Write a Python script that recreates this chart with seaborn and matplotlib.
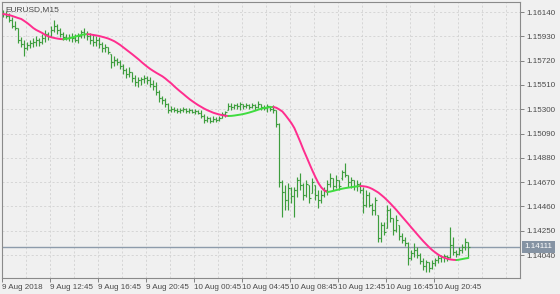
import numpy as np
import pandas as pd
import matplotlib
matplotlib.use("Agg")
import matplotlib.pyplot as plt
import seaborn as sns

symbol_title = "EURUSD,M15"

highs = [1.16158, 1.16149, 1.16132, 1.16097, 1.16063, 1.16002, 1.15924, 1.15898, 1.15881, 1.15898,
         1.15916, 1.15933, 1.15916, 1.15950, 1.15985, 1.15968, 1.16019, 1.16071, 1.16037, 1.16002,
         1.15968, 1.15950, 1.15950, 1.15959, 1.15950, 1.15959, 1.15985, 1.16002, 1.15976, 1.15959,
         1.15950, 1.15933, 1.15924, 1.15881, 1.15864, 1.15838, 1.15777, 1.15760, 1.15743, 1.15726,
         1.15691, 1.15656, 1.15665, 1.15622, 1.15596, 1.15579, 1.15579, 1.15596, 1.15587, 1.15579,
         1.15553, 1.15535, 1.15466, 1.15414, 1.15397, 1.15354, 1.15328, 1.15319, 1.15311, 1.15311,
         1.15319, 1.15311, 1.15311, 1.15302, 1.15302, 1.15294, 1.15294, 1.15259, 1.15242, 1.15233,
         1.15242, 1.15233, 1.15242, 1.15276, 1.15285, 1.15354, 1.15354, 1.15345, 1.15354, 1.15363,
         1.15345, 1.15354, 1.15345, 1.15354, 1.15345, 1.15371, 1.15345, 1.15337, 1.15345, 1.15328,
         1.15337, 1.15294, 1.15181, 1.14689, 1.14646, 1.14663, 1.14628, 1.14628, 1.14715, 1.14749,
         1.14663, 1.14689, 1.14646, 1.14706, 1.14646, 1.14602, 1.14602, 1.14628, 1.14689, 1.14749,
         1.14706, 1.14732, 1.14689, 1.14775, 1.14836, 1.14732, 1.14715, 1.14689, 1.14689, 1.14672,
         1.14628, 1.14602, 1.14585, 1.14490, 1.14542, 1.14386, 1.14326, 1.14326, 1.14473, 1.14447,
         1.14360, 1.14386, 1.14300, 1.14231, 1.14196, 1.14153, 1.14084, 1.14144, 1.14110, 1.14058,
         1.14015, 1.13998, 1.13980, 1.13998, 1.14015, 1.14041, 1.14041, 1.14049, 1.14041, 1.14283,
         1.14196, 1.14084, 1.14110, 1.14136, 1.14187, 1.14153]

lows = [1.16097, 1.16088, 1.16054, 1.16002, 1.15985, 1.15872, 1.15838, 1.15760, 1.15812, 1.15829,
        1.15838, 1.15847, 1.15847, 1.15864, 1.15881, 1.15898, 1.15924, 1.15968, 1.15950, 1.15924,
        1.15898, 1.15898, 1.15890, 1.15881, 1.15881, 1.15872, 1.15916, 1.15916, 1.15898, 1.15864,
        1.15847, 1.15847, 1.15829, 1.15795, 1.15795, 1.15777, 1.15656, 1.15674, 1.15682, 1.15648,
        1.15605, 1.15570, 1.15579, 1.15535, 1.15501, 1.15492, 1.15510, 1.15527, 1.15518, 1.15492,
        1.15466, 1.15423, 1.15363, 1.15345, 1.15319, 1.15268, 1.15276, 1.15276, 1.15268, 1.15268,
        1.15276, 1.15268, 1.15268, 1.15268, 1.15259, 1.15259, 1.15225, 1.15181, 1.15190, 1.15181,
        1.15190, 1.15190, 1.15199, 1.15225, 1.15233, 1.15294, 1.15294, 1.15302, 1.15302, 1.15294,
        1.15302, 1.15311, 1.15302, 1.15311, 1.15294, 1.15311, 1.15294, 1.15294, 1.15276, 1.15285,
        1.15268, 1.15147, 1.14628, 1.14369, 1.14430, 1.14430, 1.14490, 1.14369, 1.14542, 1.14602,
        1.14516, 1.14542, 1.14490, 1.14576, 1.14516, 1.14447, 1.14490, 1.14542, 1.14559, 1.14628,
        1.14602, 1.14620, 1.14602, 1.14689, 1.14715, 1.14628, 1.14620, 1.14602, 1.14594, 1.14576,
        1.14404, 1.14456, 1.14456, 1.14386, 1.14386, 1.14153, 1.14153, 1.14213, 1.14274, 1.14326,
        1.14213, 1.14239, 1.14170, 1.14144, 1.14118, 1.13955, 1.13998, 1.14023, 1.14015, 1.13963,
        1.13911, 1.13894, 1.13894, 1.13920, 1.13946, 1.13972, 1.13980, 1.13980, 1.13989, 1.14015,
        1.14041, 1.14023, 1.14041, 1.14058, 1.14084, 1.14023]

opens = [1.16140, 1.16123, 1.16106, 1.16071, 1.16019, 1.16002, 1.15898, 1.15864, 1.15829, 1.15855,
         1.15872, 1.15881, 1.15898, 1.15881, 1.15916, 1.15950, 1.15933, 1.15985, 1.16019, 1.15985,
         1.15950, 1.15924, 1.15916, 1.15924, 1.15916, 1.15898, 1.15933, 1.15968, 1.15950, 1.15933,
         1.15898, 1.15881, 1.15898, 1.15864, 1.15829, 1.15838, 1.15777, 1.15708, 1.15726, 1.15708,
         1.15674, 1.15639, 1.15605, 1.15622, 1.15570, 1.15535, 1.15553, 1.15561, 1.15570, 1.15553,
         1.15518, 1.15501, 1.15449, 1.15397, 1.15380, 1.15345, 1.15294, 1.15302, 1.15294, 1.15285,
         1.15294, 1.15302, 1.15285, 1.15294, 1.15276, 1.15285, 1.15268, 1.15242, 1.15207, 1.15225,
         1.15199, 1.15216, 1.15207, 1.15225, 1.15259, 1.15294, 1.15328, 1.15319, 1.15337, 1.15328,
         1.15345, 1.15328, 1.15337, 1.15319, 1.15337, 1.15319, 1.15345, 1.15319, 1.15311, 1.15328,
         1.15302, 1.15294, 1.15173, 1.14672, 1.14585, 1.14516, 1.14620, 1.14551, 1.14602, 1.14689,
         1.14646, 1.14559, 1.14646, 1.14576, 1.14646, 1.14559, 1.14516, 1.14559, 1.14602, 1.14654,
         1.14706, 1.14637, 1.14689, 1.14706, 1.14758, 1.14732, 1.14672, 1.14689, 1.14637, 1.14654,
         1.14602, 1.14473, 1.14559, 1.14473, 1.14430, 1.14386, 1.14187, 1.14300, 1.14274, 1.14430,
         1.14360, 1.14257, 1.14300, 1.14205, 1.14170, 1.14144, 1.14015, 1.14058, 1.14084, 1.14041,
         1.13989, 1.13946, 1.13980, 1.13929, 1.13972, 1.13998, 1.14015, 1.14023, 1.14032, 1.14023,
         1.14127, 1.14066, 1.14049, 1.14084, 1.14110, 1.14153]

closes = [1.16123, 1.16106, 1.16071, 1.16019, 1.16002, 1.15898, 1.15864, 1.15829, 1.15855, 1.15872,
          1.15881, 1.15898, 1.15881, 1.15916, 1.15950, 1.15933, 1.15985, 1.16019, 1.15985, 1.15950,
          1.15924, 1.15916, 1.15924, 1.15916, 1.15898, 1.15933, 1.15968, 1.15950, 1.15933, 1.15898,
          1.15881, 1.15898, 1.15864, 1.15829, 1.15838, 1.15795, 1.15708, 1.15726, 1.15708, 1.15674,
          1.15639, 1.15605, 1.15622, 1.15570, 1.15535, 1.15553, 1.15561, 1.15570, 1.15553, 1.15518,
          1.15501, 1.15449, 1.15397, 1.15380, 1.15345, 1.15294, 1.15302, 1.15294, 1.15285, 1.15294,
          1.15302, 1.15285, 1.15294, 1.15276, 1.15285, 1.15268, 1.15242, 1.15207, 1.15225, 1.15199,
          1.15216, 1.15207, 1.15225, 1.15259, 1.15276, 1.15328, 1.15319, 1.15337, 1.15328, 1.15345,
          1.15328, 1.15337, 1.15319, 1.15337, 1.15319, 1.15345, 1.15319, 1.15311, 1.15328, 1.15302,
          1.15294, 1.15173, 1.14672, 1.14585, 1.14516, 1.14620, 1.14551, 1.14602, 1.14689, 1.14646,
          1.14559, 1.14654, 1.14533, 1.14672, 1.14559, 1.14516, 1.14559, 1.14602, 1.14654, 1.14706,
          1.14637, 1.14689, 1.14637, 1.14758, 1.14732, 1.14672, 1.14689, 1.14637, 1.14654, 1.14602,
          1.14473, 1.14559, 1.14473, 1.14430, 1.14516, 1.14187, 1.14300, 1.14239, 1.14430, 1.14360,
          1.14257, 1.14343, 1.14205, 1.14170, 1.14144, 1.14015, 1.14058, 1.14084, 1.14041, 1.13989,
          1.13946, 1.13980, 1.13929, 1.13972, 1.13998, 1.14015, 1.14023, 1.14032, 1.14023, 1.14127,
          1.14066, 1.14049, 1.14084, 1.14110, 1.14153, 1.14111]

ma_values = [1.16123, 1.16119, 1.16114, 1.16106, 1.16097, 1.16088, 1.16080, 1.16063, 1.16045, 1.16024,
             1.16002, 1.15985, 1.15972, 1.15959, 1.15942, 1.15930, 1.15922, 1.15916, 1.15911, 1.15907,
             1.15905, 1.15909, 1.15914, 1.15920, 1.15928, 1.15935, 1.15942, 1.15947, 1.15949, 1.15947,
             1.15942, 1.15938, 1.15933, 1.15926, 1.15919, 1.15911, 1.15900, 1.15888, 1.15872, 1.15855,
             1.15835, 1.15815, 1.15795, 1.15775, 1.15754, 1.15733, 1.15710, 1.15688, 1.15667, 1.15648,
             1.15631, 1.15615, 1.15600, 1.15585, 1.15566, 1.15544, 1.15523, 1.15498, 1.15475, 1.15453,
             1.15432, 1.15410, 1.15389, 1.15370, 1.15352, 1.15335, 1.15320, 1.15305, 1.15292, 1.15281,
             1.15270, 1.15262, 1.15255, 1.15249, 1.15244, 1.15242, 1.15243, 1.15246, 1.15250, 1.15254,
             1.15259, 1.15265, 1.15272, 1.15280, 1.15288, 1.15297, 1.15305, 1.15311, 1.15315, 1.15318,
             1.15320, 1.15313, 1.15298, 1.15281, 1.15250, 1.15216, 1.15181, 1.15138, 1.15078, 1.15017,
             1.14952, 1.14892, 1.14831, 1.14771, 1.14715, 1.14663, 1.14624, 1.14598, 1.14585, 1.14589,
             1.14595, 1.14602, 1.14608, 1.14614, 1.14619, 1.14623, 1.14627, 1.14631, 1.14634, 1.14637,
             1.14635, 1.14631, 1.14623, 1.14611, 1.14596, 1.14580, 1.14559, 1.14537, 1.14512, 1.14486,
             1.14458, 1.14430, 1.14399, 1.14369, 1.14339, 1.14309, 1.14278, 1.14248, 1.14218, 1.14188,
             1.14159, 1.14132, 1.14106, 1.14082, 1.14062, 1.14043, 1.14028, 1.14017, 1.14008, 1.14002,
             1.13999, 1.13997, 1.14001, 1.14006, 1.14011, 1.14015]

price_ticks = [1.16140, 1.15930, 1.15720, 1.15510, 1.15300, 1.15090, 1.14880,
               1.14670, 1.14460, 1.14250, 1.14040]
time_labels = ["9 Aug 2018", "9 Aug 12:45", "9 Aug 16:45", "9 Aug 20:45", "10 Aug 00:45",
               "10 Aug 04:45", "10 Aug 08:45", "10 Aug 12:45", "10 Aug 16:45", "10 Aug 20:45"]
current_price = 1.14111

BG = "#f0f0f0"
BAR = "#3d9d3d"
DOWN = "#ff2d8e"
UP = "#3fdc3f"
TXT = "#4a4a4a"

sns.set_theme(style="ticks")
plt.rcParams["font.family"] = ["Liberation Sans", "DejaVu Sans"]

fig = plt.figure(figsize=(5.6, 2.94), dpi=100, facecolor=BG)
ax = fig.add_axes([2 / 560, 16 / 294, 518 / 560, 276 / 294])
ax.set_facecolor(BG)

n = len(closes)
idx = np.arange(n)
df = pd.DataFrame({"i": idx, "open": opens, "high": highs, "low": lows,
                   "close": closes, "ma": ma_values})

# grid
for k in range(0, 23):
    ax.axvline(8 * k - 0.33, color="#d2d2d2", lw=0.6, ls=(0, (2.5, 2.5)), zorder=0)
for p in price_ticks:
    ax.axhline(p, color="#d2d2d2", lw=0.6, ls=(0, (2.5, 2.5)), zorder=0)

# OHLC bars
ax.vlines(df["i"], df["low"], df["high"], color=BAR, lw=0.85, zorder=2)
ax.hlines(df["open"], df["i"] - 0.45, df["i"], color=BAR, lw=0.85, zorder=2)
ax.hlines(df["close"], df["i"], df["i"] + 0.45, color=BAR, lw=0.85, zorder=2)

# moving average, coloured by direction
d = np.sign(np.diff(df["ma"].values))
start = 0
for j in range(1, len(d) + 1):
    if j == len(d) or d[j] != d[start]:
        seg = df.iloc[start:j + 1]
        sns.lineplot(data=seg, x="i", y="ma", ax=ax, color=UP if d[start] > 0 else DOWN,
                     lw=1.4, zorder=3, legend=False, estimator=None, sort=False)
        start = j

# current price line
ax.axhline(current_price, color="#8d9bab", lw=1.0, zorder=1)

ax.set_xlim(-0.43, 172.2)
ax.set_ylim(1.13842, 1.16227)

ax.yaxis.tick_right()
ax.set_yticks(price_ticks)
ax.set_yticklabels([f"{p:.5f}" for p in price_ticks])
ax.set_xticks([16 * k - 0.33 for k in range(len(time_labels))])
ax.set_xticklabels(time_labels, ha="left")
ax.tick_params(axis="both", labelsize=5.8, colors="#707070", labelcolor=TXT,
               length=3, width=0.6, pad=1.5)
ax.set_xlabel("")
ax.set_ylabel("")
for s in ax.spines.values():
    s.set_visible(True)
    s.set_color("#8a8a8a")
    s.set_linewidth(0.8)

ax.text(0.006, 0.985, symbol_title, transform=ax.transAxes, fontsize=6,
        color=TXT, ha="left", va="top")
ax.text(1.008, current_price, f"{current_price:.5f}", transform=ax.get_yaxis_transform(),
        fontsize=5.8, color="white", ha="left", va="center",
        bbox=dict(boxstyle="square,pad=0.3", fc="#8593a3", ec="none"), zorder=5,
        clip_on=False)

fig.savefig("out.png", dpi=100, facecolor=BG)
